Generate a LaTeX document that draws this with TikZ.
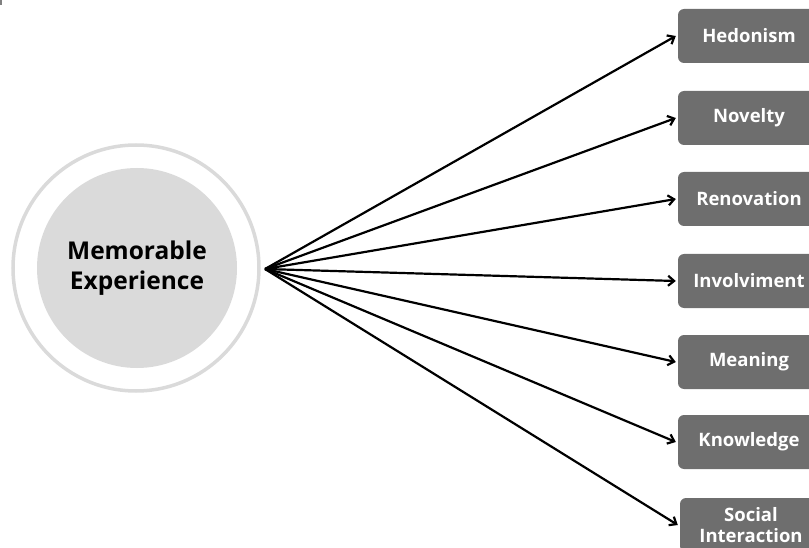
\documentclass[tikz,border=0pt]{standalone}
\usepackage{fontspec}
\setmainfont{Open Sans}
\usetikzlibrary{arrows.meta}
\definecolor{boxgray}{HTML}{6E6E6E}
\definecolor{ringgray}{HTML}{DADADA}
\begin{document}
\begin{tikzpicture}[x=1pt,y=-1pt,
  dim/.style={draw=none,fill=boxgray,rounded corners=6pt,minimum width=142pt,minimum height=54pt,
    text=white,font=\bfseries\fontsize{18.5}{21}\selectfont,align=center,inner sep=0pt},
  link/.style={line width=2.2pt,-{Straight Barb[length=6pt,width=10pt,line width=2.2pt]}}]
  \useasboundingbox (0,0) rectangle (809,548);
  \clip (0,0) rectangle (809,548);
  % small tick at the corner
  \fill[black!50] (0,0) rectangle (2,5);
  % central circle with its outer ring
  \draw[draw=ringgray,line width=3.5pt] (136,268) circle (123);
  \node[circle,fill=ringgray,minimum size=200pt,inner sep=0pt,align=center,
        font=\bfseries\fontsize{24.5}{30}\selectfont] (core) at (137,268) {Memorable\\Experience};
  \coordinate (hub) at (265,269);
  % dimension boxes
  \node[dim] (hed) at (749,36)  {Hedonism};
  \node[dim] (nov) at (749,118) {Novelty};
  \node[dim] (ren) at (749,199) {Renovation};
  \node[dim] (inv) at (749,281) {Involviment};
  \node[dim] (mea) at (749,362) {Meaning};
  \node[dim] (kno) at (749,442) {Knowledge};
  \node[dim,font=\bfseries\fontsize{18.5}{21}\selectfont] (soc) at (751,525) {Social\\Interaction};
  % connectors from the hub
  \foreach \t in {hed,nov,ren,inv,mea,kno,soc}
    \draw[link] (hub) -- ([xshift=-2pt]\t.west);
\end{tikzpicture}
\end{document}
